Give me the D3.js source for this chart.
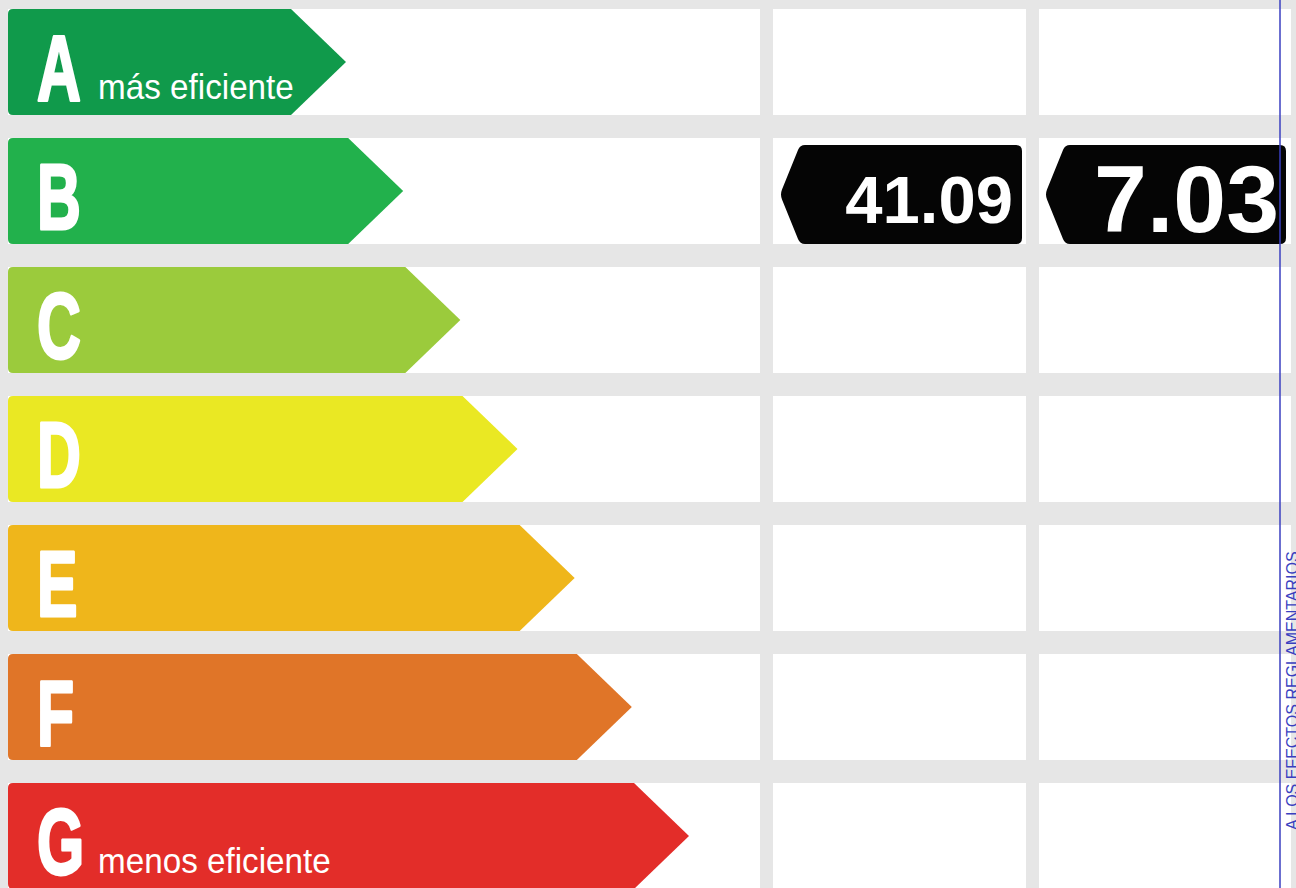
<!DOCTYPE html>
<html>
<head>
<meta charset="utf-8">
<script src="https://cdn.jsdelivr.net/npm/d3@7"></script>
<style>
  html, body { margin: 0; padding: 0; background: #e6e6e6; overflow: hidden; }
  svg { display: block; }
</style>
</head>
<body>
<div class="chart"></div>
<script>
const grades = ['A', 'B', 'C', 'D', 'E', 'F', 'G']
const gradeColors = ['#109a4b', '#22b14c', '#9bcb3c', '#eae823', '#efb61b', '#e07528', '#e32d29']
const gradeNotes = ['más eficiente', '', '', '', '', '', 'menos eficiente']
const values = ['41.09', '7.03']
const valueGrades = ['B', 'B']

const width = 1296
const height = 888

const svg = d3
  .select('.chart')
  .append('svg')
  .attr('width', width)
  .attr('height', height)

// rows: step 129, band 106
const y = d3
  .scaleBand()
  .domain(grades)
  .range([9, 9 + 6 * 129 + 106])
  .paddingInner(23 / 129)
  .paddingOuter(0)

// arrow tip position grows with grade
const tip = d3.scaleLinear().domain([0, 6]).range([346, 689])

// columns (white cells)
const cols = [
  [8, 760],
  [773, 1026],
  [1039, 1291]
]

svg
  .append('rect')
  .attr('width', width)
  .attr('height', height)
  .attr('fill', '#e6e6e6')

const cells = svg.append('g')
grades.forEach((g) => {
  cols.forEach((c) => {
    cells
      .append('rect')
      .attr('x', c[0])
      .attr('y', y(g))
      .attr('width', c[1] - c[0])
      .attr('height', y.bandwidth())
      .attr('fill', '#ffffff')
  })
})

// grade arrows
const bars = svg
  .append('g')
  .selectAll('g')
  .data(grades)
  .enter()
  .append('g')

bars
  .append('path')
  .attr('d', (d, i) => {
    const x0 = 8
    const y0 = y(d)
    const h = y.bandwidth()
    const t = tip(i)
    const r = 5
    const p = d3.path()
    p.moveTo(x0 + r, y0)
    p.lineTo(t - h / 2 - 2, y0)
    p.lineTo(t, y0 + h / 2)
    p.lineTo(t - h / 2 - 2, y0 + h)
    p.lineTo(x0 + r, y0 + h)
    p.quadraticCurveTo(x0, y0 + h, x0, y0 + h - r)
    p.lineTo(x0, y0 + r)
    p.quadraticCurveTo(x0, y0, x0 + r, y0)
    p.closePath()
    return p.toString()
  })
  .attr('fill', (d, i) => gradeColors[i])

bars
  .append('text')
  .attr('transform', (d) => 'translate(37,' + (y(d) + 91) + ') scale(0.66,1)')
  .attr('font-family', '"Liberation Sans", Arial, sans-serif')
  .attr('font-weight', 'bold')
  .attr('font-size', 92)
  .attr('fill', '#ffffff')
  .attr('stroke', '#ffffff')
  .attr('stroke-width', 3)
  .attr('stroke-linejoin', 'round')
  .text((d) => d)

bars
  .append('text')
  .attr('transform', (d) => 'translate(98,' + (y(d) + 90) + ') scale(0.95,1)')
  .attr('font-family', '"Liberation Sans", Arial, sans-serif')
  .attr('font-size', 35)
  .attr('fill', '#ffffff')
  .text((d, i) => gradeNotes[i])

// value tags
const tags = svg
  .append('g')
  .selectAll('g')
  .data(values)
  .enter()
  .append('g')

const tagBox = [
  [781, 1022],
  [1046, 1286]
]
const tagFont = [67, 95]

tags
  .append('path')
  .attr('d', (d, i) => {
    const yy = y(valueGrades[i])
    const top = yy + 7
    const bot = yy + 106
    const x0 = tagBox[i][0]
    const x1 = tagBox[i][1]
    const mid = (top + bot) / 2
    const r = 6
    const p = d3.path()
    p.moveTo(x0 + 24, top)
    p.lineTo(x1 - r, top)
    p.quadraticCurveTo(x1, top, x1, top + r)
    p.lineTo(x1, bot - r)
    p.quadraticCurveTo(x1, bot, x1 - r, bot)
    p.lineTo(x0 + 24, bot)
    p.quadraticCurveTo(x0 + 19, bot, x0 + 17, bot - 5)
    p.lineTo(x0 + 1, mid + 5)
    p.quadraticCurveTo(x0 - 1, mid, x0 + 1, mid - 5)
    p.lineTo(x0 + 17, top + 5)
    p.quadraticCurveTo(x0 + 19, top, x0 + 24, top)
    p.closePath()
    return p.toString()
  })
  .attr('fill', '#050505')

tags
  .append('text')
  .attr('x', (d, i) => tagBox[i][1] - (i === 0 ? 9 : 7))
  .attr('y', (d, i) => y(valueGrades[i]) + (i === 0 ? 85 : 94))
  .attr('text-anchor', 'end')
  .attr('font-family', '"Liberation Sans", Arial, sans-serif')
  .attr('font-weight', 'bold')
  .attr('font-size', (d, i) => tagFont[i])
  .attr('fill', '#ffffff')
  .text((d) => d)

// blue margin line + vertical note
svg
  .append('line')
  .attr('x1', 1280)
  .attr('x2', 1280)
  .attr('y1', 0)
  .attr('y2', height)
  .attr('stroke', '#3a3fc0')
  .attr('stroke-width', 1.5)

svg
  .append('text')
  .attr('transform', 'translate(1298,830) rotate(-90)')
  .attr('font-family', '"Liberation Sans", Arial, sans-serif')
  .attr('font-size', 16)
  .attr('fill', '#3a3fc0')
  .text('A LOS EFECTOS REGLAMENTARIOS')
</script>
</body>
</html>
